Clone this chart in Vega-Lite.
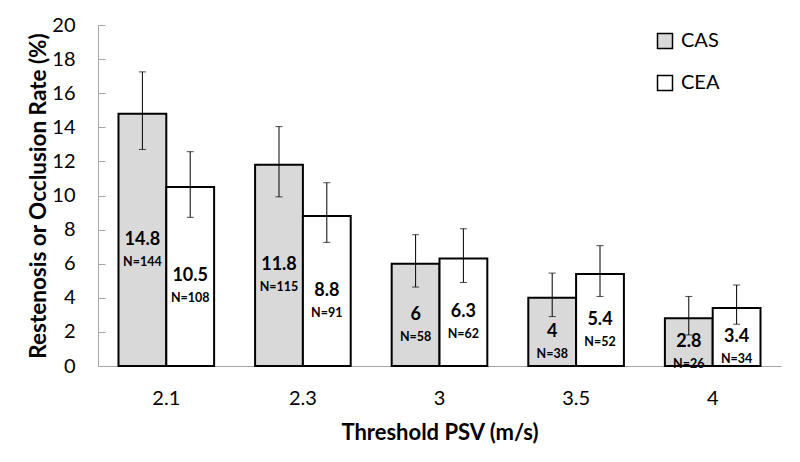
{
  "$schema": "https://vega.github.io/schema/vega-lite/v6.json",
  "width": 683,
  "height": 341,
  "autosize": "none",
  "padding": {"left": 98, "top": 25, "right": 19, "bottom": 96},
  "background": "white",
  "config": {
    "font": "Lato",
    "view": {"stroke": null},
    "axis": {"grid": false, "domainColor": "#a6a6a6", "tickColor": "#a6a6a6", "labelColor": "#000000", "titleColor": "#000000", "labelFont": "Lato", "titleFont": "Lato"},
    "axisY": {"labelOverlap": false, "labelFontSize": 20, "titleFontSize": 22.5, "titleFontWeight": "bold", "tickSize": -7, "labelPadding": 30, "titlePadding": 1}
  },
  "data": {
    "values": [
      {"threshold": "2.1", "group": "CAS", "rate": 14.8, "lo": 12.7, "hi": 17.25, "nlabel": "N=144"},
      {"threshold": "2.1", "group": "CEA", "rate": 10.5, "lo": 8.72, "hi": 12.57, "nlabel": "N=108"},
      {"threshold": "2.3", "group": "CAS", "rate": 11.8, "lo": 9.92, "hi": 14.04, "nlabel": "N=115"},
      {"threshold": "2.3", "group": "CEA", "rate": 8.8, "lo": 7.25, "hi": 10.75, "nlabel": "N=91"},
      {"threshold": "3", "group": "CAS", "rate": 6, "lo": 4.63, "hi": 7.7, "nlabel": "N=58"},
      {"threshold": "3", "group": "CEA", "rate": 6.3, "lo": 4.9, "hi": 8.05, "nlabel": "N=62"},
      {"threshold": "3.5", "group": "CAS", "rate": 4, "lo": 2.9, "hi": 5.45, "nlabel": "N=38"},
      {"threshold": "3.5", "group": "CEA", "rate": 5.4, "lo": 4.08, "hi": 7.06, "nlabel": "N=52"},
      {"threshold": "4", "group": "CAS", "rate": 2.8, "lo": 1.82, "hi": 4.08, "nlabel": "N=26"},
      {"threshold": "4", "group": "CEA", "rate": 3.4, "lo": 2.45, "hi": 4.75, "nlabel": "N=34"}
    ]
  },
  "transform": [{"calculate": "datum.rate / 2", "as": "mid"}],
  "encoding": {
    "x": {
      "field": "threshold", "type": "nominal", "sort": null,
      "scale": {"paddingInner": 0.3, "paddingOuter": 0.15},
      "axis": {"title": "Threshold PSV (m/s)", "labelAngle": 0, "labelFontSize": 20, "titleFontSize": 22, "titleFontWeight": "bold", "ticks": false, "labelPadding": 22, "titlePadding": 14}
    },
    "xOffset": {"field": "group", "type": "nominal", "scale": {"paddingInner": 0, "paddingOuter": 0}}
  },
  "layer": [
    {
      "mark": {"type": "bar", "stroke": "#000000", "strokeWidth": 2},
      "encoding": {
        "y": {
          "field": "rate", "type": "quantitative",
          "scale": {"domain": [0, 20], "nice": false},
          "axis": {"title": "Restenosis or Occlusion Rate (%)", "values": [0, 2, 4, 6, 8, 10, 12, 14, 16, 18, 20]}
        },
        "color": {
          "field": "group", "type": "nominal",
          "scale": {"domain": ["CAS", "CEA"], "range": ["#d9d9d9", "#ffffff"]},
          "legend": {"title": null, "orient": "none", "legendX": 557, "legendY": 6, "symbolType": "square", "symbolSize": 225, "symbolStrokeColor": "#000000", "symbolStrokeWidth": 1.5, "labelFontSize": 20, "labelColor": "#000000", "rowPadding": 20, "labelOffset": 6}
        }
      }
    },
    {
      "mark": {"type": "rule", "color": "#000000", "strokeWidth": 1},
      "encoding": {"y": {"field": "lo", "type": "quantitative", "axis": {"title": "Restenosis or Occlusion Rate (%)", "values": [0, 2, 4, 6, 8, 10, 12, 14, 16, 18, 20]}}, "y2": {"field": "hi"}}
    },
    {
      "mark": {"type": "tick", "color": "#000000", "size": 7, "thickness": 1},
      "encoding": {"y": {"field": "lo", "type": "quantitative", "axis": {"title": "Restenosis or Occlusion Rate (%)", "values": [0, 2, 4, 6, 8, 10, 12, 14, 16, 18, 20]}}}
    },
    {
      "mark": {"type": "tick", "color": "#000000", "size": 7, "thickness": 1},
      "encoding": {"y": {"field": "hi", "type": "quantitative", "axis": {"title": "Restenosis or Occlusion Rate (%)", "values": [0, 2, 4, 6, 8, 10, 12, 14, 16, 18, 20]}}}
    },
    {
      "mark": {"type": "text", "fontSize": 18, "fontWeight": "bold", "color": "#000000", "baseline": "middle"},
      "encoding": {"y": {"field": "mid", "type": "quantitative", "axis": {"title": "Restenosis or Occlusion Rate (%)", "values": [0, 2, 4, 6, 8, 10, 12, 14, 16, 18, 20]}}, "text": {"field": "rate", "type": "quantitative"}}
    },
    {
      "mark": {"type": "text", "fontSize": 12.5, "fontWeight": "bold", "color": "#000000", "baseline": "middle", "dy": 22},
      "encoding": {"y": {"field": "mid", "type": "quantitative", "axis": {"title": "Restenosis or Occlusion Rate (%)", "values": [0, 2, 4, 6, 8, 10, 12, 14, 16, 18, 20]}}, "text": {"field": "nlabel", "type": "nominal"}}
    }
  ]
}
